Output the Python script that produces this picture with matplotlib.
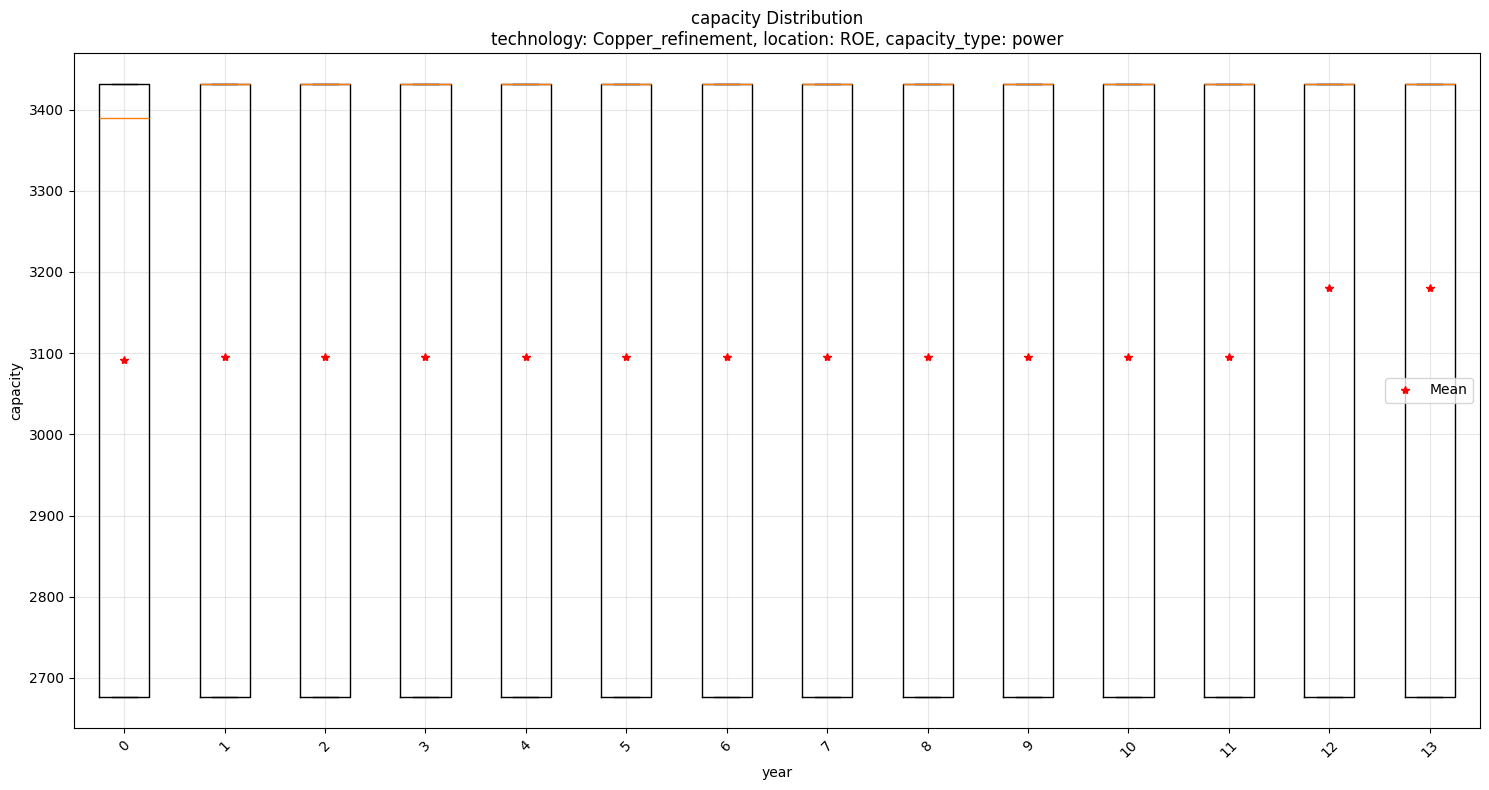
import matplotlib
matplotlib.use("Agg")
import matplotlib.pyplot as plt

years = list(range(14))
q1 = [2676] * 14
q3 = [3432] * 14
whislo = [2676] * 14
whishi = [3432] * 14
medians = [3390] + [3432] * 13
means = [3091, 3095, 3095, 3095, 3095, 3095, 3095, 3095, 3095, 3095, 3095, 3095, 3180, 3180]

stats = []
for i, y in enumerate(years):
    stats.append(dict(label=str(y), q1=q1[i], q3=q3[i], med=medians[i],
                      whislo=whislo[i], whishi=whishi[i], fliers=[]))

fig, ax = plt.subplots(figsize=(14.89, 7.9), dpi=100)
positions = list(range(1, len(years) + 1))
ax.bxp(stats, positions=positions, widths=0.5, showfliers=False)
ax.plot(positions, means, 'r*', label='Mean')
ax.set_xticks(positions)
ax.set_xticklabels([str(y) for y in years], rotation=45)
ax.set_xlabel('year')
ax.set_ylabel('capacity')
ax.set_title('capacity Distribution\ntechnology: Copper_refinement, location: ROE, capacity_type: power')
ax.grid(True, alpha=0.3)
ax.legend(loc='center right')
fig.subplots_adjust(left=74/1489, right=1480/1489, top=1-53/790, bottom=1-728/790)
fig.savefig('out.png', dpi=100)
